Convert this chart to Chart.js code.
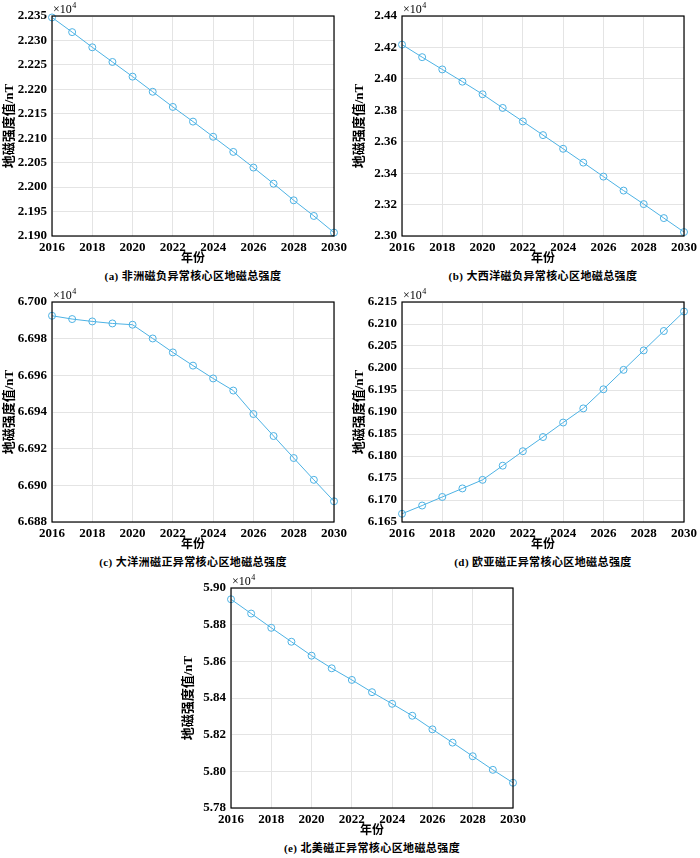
<!DOCTYPE html>
<html lang="zh">
<head>
<meta charset="UTF-8">
<title>地磁核心区总强度</title>
<script src="https://cdn.jsdelivr.net/npm/chart.js"></script>
<style>
  body { margin: 0; background: #fff; width: 700px; height: 858px; position: relative; overflow: hidden; }
  .panel { position: absolute; width: 350px; height: 290px; }
  .panel canvas { display: block; }
  .cap {
    position: absolute; left: 0; top: 269px; width: 386px; text-align: center;
    font: bold 11px "Liberation Serif", "Noto Sans CJK SC"; letter-spacing: 0.4px;
    line-height: 14px; color: #000;
  }
</style>
</head>
<body>

<div class="panel" style="left:0;top:0"><canvas id="ca" width="350" height="266"></canvas>
  <div class="cap">(a) 非洲磁负异常核心区地磁总强度</div></div>
<div class="panel" style="left:350px;top:0"><canvas id="cb" width="350" height="266"></canvas>
  <div class="cap">(b) 大西洋磁负异常核心区地磁总强度</div></div>
<div class="panel" style="left:0;top:286px"><canvas id="cc" width="350" height="266"></canvas>
  <div class="cap">(c) 大洋洲磁正异常核心区地磁总强度</div></div>
<div class="panel" style="left:350px;top:286px"><canvas id="cd" width="350" height="266"></canvas>
  <div class="cap">(d) 欧亚磁正异常核心区地磁总强度</div></div>
<div class="panel" style="left:179px;top:572px"><canvas id="ce" width="350" height="266"></canvas>
  <div class="cap">(e) 北美磁正异常核心区地磁总强度</div></div>

<script>
// years on the x axis
const years = [2016, 2017, 2018, 2019, 2020, 2021, 2022, 2023, 2024, 2025, 2026, 2027, 2028, 2029, 2030];

// total field intensity, nT
const africa = [22347, 22317, 22286, 22256, 22226, 22195, 22164, 22134, 22103, 22072, 22040, 22007, 21973, 21941, 21907];
const atlantic = [24218, 24138, 24060, 23982, 23902, 23815, 23729, 23642, 23555, 23467, 23378, 23289, 23203, 23114, 23025];
const oceania = [66992.5, 66990.7, 66989.4, 66988.3, 66987.6, 66980.1, 66972.5, 66965.3, 66958.3, 66951.7, 66938.9, 66926.9, 66914.9, 66903.0, 66891.3];
const eurasia = [61668.7, 61687.4, 61706.9, 61726.3, 61745.8, 61778.0, 61810.9, 61843.1, 61876.0, 61908.2, 61951.6, 61995.8, 62040.0, 62084.1, 62128.3];
const northAmerica = [58938.5, 58860.6, 58782.8, 58706.8, 58630.8, 58562.0, 58498.6, 58431.7, 58368.3, 58303.2, 58229.0, 58156.6, 58082.4, 58008.2, 57937.6];

// y axis ranges [min, max, step, decimals of the x10^4 label]
const rangeA = [21900, 22350, 50, 3];
const rangeB = [23000, 24400, 200, 2];
const rangeC = [66880, 67000, 20, 3];
const rangeD = [61650, 62150, 50, 3];
const rangeE = [57800, 59000, 200, 2];

const FONT = '"Liberation Serif", "Noto Sans CJK SC"';
const LINE = 'rgb(77, 178, 228)';

// black box round the plot + the x10^4 exponent label
const framePlugin = {
  id: 'frame',
  afterDraw(chart) {
    const { ctx, chartArea: a } = chart;
    ctx.save();
    ctx.strokeStyle = '#000';
    ctx.lineWidth = 1.2;
    ctx.strokeRect(a.left, a.top, a.right - a.left, a.bottom - a.top);
    ctx.fillStyle = '#000';
    ctx.textBaseline = 'alphabetic';
    ctx.font = '12px "Liberation Serif"';
    ctx.fillText('×10', a.left + 1, a.top - 3);
    const w = ctx.measureText('×10').width;
    ctx.font = '8px "Liberation Serif"';
    ctx.fillText('4', a.left + 1.5 + w, a.top - 8);
    ctx.restore();
  }
};

function fixSize(prop, size) {
  return scale => {
    scale[prop] = size;
    scale.paddingLeft = scale.paddingRight = scale.paddingTop = scale.paddingBottom = 0;
  };
}

function makePanel(id, values, range) {
  const [min, max, step, dec] = range;
  new Chart(document.getElementById(id), {
    type: 'line',
    data: {
      datasets: [{
        data: years.map((y, i) => ({ x: y, y: values[i] })),
        borderColor: LINE,
        borderWidth: 1,
        backgroundColor: 'rgba(0,0,0,0)',
        pointRadius: 3.5,
        pointBorderWidth: 1,
        pointBorderColor: LINE,
        pointBackgroundColor: 'rgba(0,0,0,0)',
        tension: 0,
        clip: false
      }]
    },
    options: {
      responsive: false,
      animation: false,
      layout: { padding: { left: 0, top: 16, right: 16, bottom: 0 } },
      plugins: { legend: { display: false }, tooltip: { enabled: false } },
      scales: {
        x: {
          type: 'linear', min: 2016, max: 2030,
          afterFit: fixSize('height', 30),
          grid: { color: '#e4e4e4', drawTicks: false },
          border: { display: false },
          ticks: {
            stepSize: 2, padding: 4, color: '#000', maxRotation: 0,
            font: { family: FONT, size: 13, weight: 'bold' },
            callback: v => String(v)
          },
          title: {
            display: true, text: '年份', color: '#000', padding: 0,
            font: { family: FONT, size: 12, weight: 'bold' }
          }
        },
        y: {
          min: min, max: max,
          afterFit: fixSize('width', 52),
          grid: { color: '#e4e4e4', drawTicks: false },
          border: { display: false },
          ticks: {
            stepSize: step, padding: 5, color: '#000',
            font: { family: FONT, size: 13, weight: 'bold' },
            callback: v => (v / 1e4).toFixed(dec)
          },
          title: {
            display: true, text: '地磁强度值/nT', color: '#000', padding: { top: 2, bottom: 0 },
            font: { family: FONT, size: 13, weight: 'bold' }
          }
        }
      }
    },
    plugins: [framePlugin]
  });
}

makePanel('ca', africa, rangeA);
makePanel('cb', atlantic, rangeB);
makePanel('cc', oceania, rangeC);
makePanel('cd', eurasia, rangeD);
makePanel('ce', northAmerica, rangeE);
</script>
</body>
</html>
